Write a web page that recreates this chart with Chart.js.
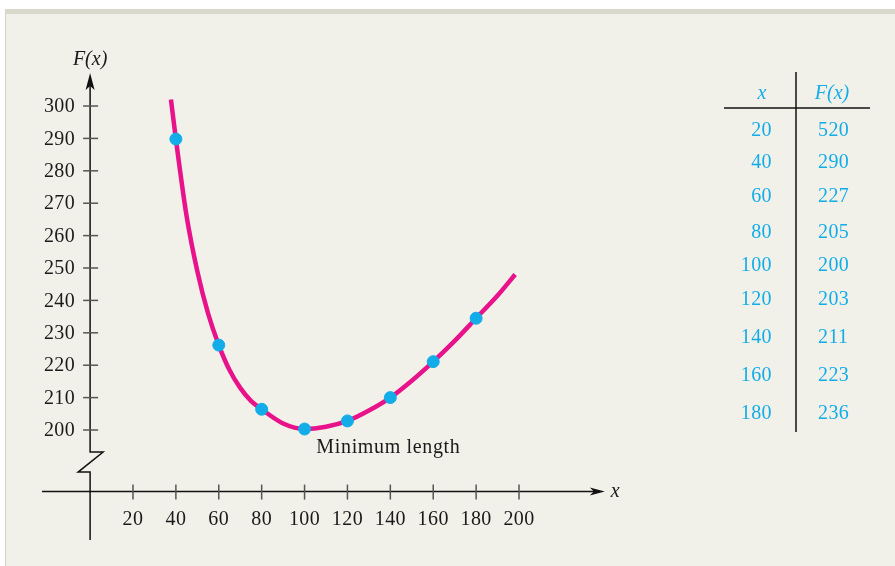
<!DOCTYPE html>
<html><head><meta charset="utf-8">
<script src="https://cdn.jsdelivr.net/npm/chart.js@4/dist/chart.umd.min.js"></script>
<style>
html,body{margin:0;padding:0;background:#fff;}
#wrap{position:absolute;left:0;top:0;width:895px;height:566px;}
#panel{position:absolute;left:5px;top:9px;width:890px;height:557px;background:#f2f1e9;border-top:5px solid #d9d9cb;border-left:1px solid #d4d4c6;box-sizing:border-box;}
canvas{position:absolute;left:0;top:0;}
</style></head><body>
<div id="wrap"><div id="panel"></div><canvas id="c" width="895" height="566"></canvas></div>
<script>
// table data
const tableX = [20, 40, 60, 80, 100, 120, 140, 160, 180];
const tableF = [520, 290, 227, 205, 200, 203, 211, 223, 236];
// plotted dots
const dotX = [40, 60, 80, 100, 120, 140, 160, 180];
const dotY = [289.8, 226.2, 206.4, 200.3, 202.8, 210, 221.1, 234.5];
// curve
const curveX = [37.7, 40, 45, 50, 55, 60, 65, 70, 75, 80, 90, 100, 110, 120, 130, 140, 150, 160, 170, 180, 190, 198.2];
const curveY = [302, 289.8, 266, 249, 236, 226.2, 218.5, 213, 209, 206.4, 202, 200.3, 201, 202.8, 206, 210, 215.2, 221.1, 227.5, 234.5, 241.5, 248];
// tick labels
const xTicks = [20, 40, 60, 80, 100, 120, 140, 160, 180, 200];
const yTicks = [200, 210, 220, 230, 240, 250, 260, 270, 280, 290, 300];
const annotation = "Minimum length";
const yTitle = "F(x)", xTitle = "x";

const SERIF = '"Liberation Serif","Times New Roman",serif';
const CYAN = '#12ade8', MAG = '#e8128a';
const rowBase = [136, 168, 202, 238, 271, 305, 343, 381, 419];

const pointData = dotX.map((x, i) => ({x, y: dotY[i]}));
const curveData = curveX.map((x, i) => ({x, y: curveY[i]}));

const axesPlugin = {
  id: 'axesPlugin',
  beforeDatasetsDraw(chart) {
    const ctx = chart.ctx, xs = chart.scales.x, ys = chart.scales.y;
    const ax = xs.getPixelForValue(0);
    const ay = ys.getPixelForValue(181);
    const left = chart.chartArea.left, right = xs.getPixelForValue(240);
    const top = ys.getPixelForValue(310.2), bottom = chart.chartArea.bottom;
    const b1 = ys.getPixelForValue(193.2), b2 = ys.getPixelForValue(187.0);
    ctx.save();
    ctx.strokeStyle = '#111'; ctx.lineWidth = 1.5; ctx.fillStyle = '#111';
    // x axis
    ctx.beginPath(); ctx.moveTo(left, ay); ctx.lineTo(right - 8, ay); ctx.stroke();
    ctx.beginPath(); ctx.moveTo(right, ay); ctx.lineTo(right - 15, ay - 4); ctx.lineTo(right - 11, ay); ctx.lineTo(right - 15, ay + 4); ctx.closePath(); ctx.fill();
    // y axis with break
    ctx.beginPath(); ctx.moveTo(ax, bottom); ctx.lineTo(ax, b2); ctx.lineTo(ax - 12, b2); ctx.lineTo(ax + 13, b1); ctx.lineTo(ax, b1); ctx.lineTo(ax, top + 10); ctx.stroke();
    ctx.beginPath(); ctx.moveTo(ax, top); ctx.lineTo(ax - 4.5, top + 17); ctx.lineTo(ax, top + 13); ctx.lineTo(ax + 4.5, top + 17); ctx.closePath(); ctx.fill();
    // ticks
    ctx.strokeStyle = '#555'; ctx.lineWidth = 1.5;
    yTicks.forEach(v => { const p = ys.getPixelForValue(v); ctx.beginPath(); ctx.moveTo(ax - 7, p); ctx.lineTo(ax + 8, p); ctx.stroke(); });
    xTicks.forEach(v => { const p = xs.getPixelForValue(v); ctx.beginPath(); ctx.moveTo(p, ay - 7); ctx.lineTo(p, ay + 8); ctx.stroke(); });
    // labels
    ctx.fillStyle = '#1a1a1a'; ctx.font = '20px ' + SERIF;
    ctx.letterSpacing = '0.4px';
    ctx.textAlign = 'right'; ctx.textBaseline = 'middle';
    yTicks.forEach(v => ctx.fillText(String(v), ax - 15, ys.getPixelForValue(v) + 1));
    ctx.textAlign = 'center'; ctx.textBaseline = 'alphabetic';
    xTicks.forEach(v => ctx.fillText(String(v), xs.getPixelForValue(v), ay + 33));
    ctx.textAlign = 'left';
    ctx.letterSpacing = '0.65px';
    ctx.fillText(annotation, xs.getPixelForValue(105.5), ys.getPixelForValue(193.0));
    ctx.letterSpacing = '0px';
    ctx.font = 'italic 20px ' + SERIF;
    ctx.textAlign = 'center'; ctx.fillText(yTitle, ax, top - 8);
    ctx.textAlign = 'left'; ctx.fillText(xTitle, right + 6, ay + 5);
    // table
    ctx.strokeStyle = '#111'; ctx.lineWidth = 1.5;
    ctx.beginPath(); ctx.moveTo(796, 72); ctx.lineTo(796, 432); ctx.stroke();
    ctx.beginPath(); ctx.moveTo(724, 108); ctx.lineTo(870, 108); ctx.stroke();
    ctx.fillStyle = CYAN;
    ctx.font = 'italic 20px ' + SERIF; ctx.textAlign = 'center';
    ctx.fillText('x', 762, 99); ctx.fillText('F(x)', 832, 99);
    ctx.font = '20px ' + SERIF;
    ctx.letterSpacing = '0.4px';
    tableX.forEach((x, i) => {
      ctx.textAlign = 'right'; ctx.fillText(String(x), 772, rowBase[i]);
      ctx.textAlign = 'left'; ctx.fillText(String(tableF[i]), 818, rowBase[i]);
    });
    ctx.restore();
  }
};

new Chart(document.getElementById('c'), {
  type: 'scatter',
  data: {
    datasets: [
      {type: 'line', data: curveData, borderColor: MAG, borderWidth: 4.5, pointRadius: 0, fill: false, cubicInterpolationMode: 'monotone', clip: false, order: 2},
      {type: 'scatter', data: pointData, backgroundColor: CYAN, borderColor: CYAN, pointRadius: 6, pointHoverRadius: 6, clip: false, order: 1}
    ]
  },
  options: {
    responsive: false, animation: false, devicePixelRatio: 1,
    layout: {padding: {left: 42, right: 290, top: 73, bottom: 26}},
    plugins: {legend: {display: false}, tooltip: {enabled: false}},
    scales: {
      x: {type: 'linear', min: -22.43, max: 240.1, display: false},
      y: {type: 'linear', min: 166.05, max: 310.19, display: false}
    }
  },
  plugins: [axesPlugin]
});
</script>
</body></html>
